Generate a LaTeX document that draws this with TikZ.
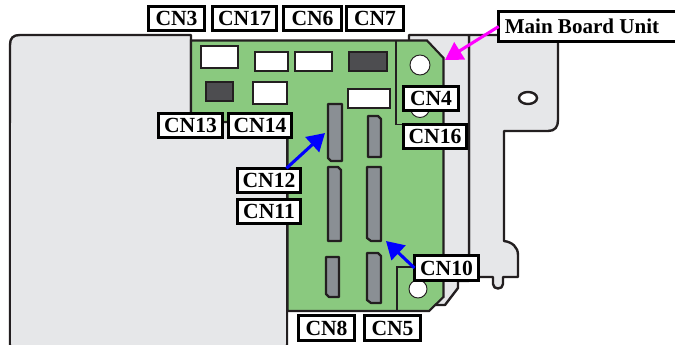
\documentclass[tikz,border=0pt]{standalone}
\usepackage{fontspec}
\setmainfont{Liberation Serif}
\usetikzlibrary{arrows.meta}
\definecolor{panel}{HTML}{E6E7E9}
\definecolor{board}{HTML}{8AC97F}
\definecolor{ink}{HTML}{231F20}
\definecolor{slotgray}{HTML}{8A8F94}
\definecolor{darkpart}{HTML}{4D4D50}
\definecolor{pinkline}{HTML}{FF00FF}
\tikzset{
  metal/.style={fill=panel,draw=ink,line width=1.8pt,line join=round},
  pcb/.style={fill=board,draw=ink,line width=1.6pt,line join=miter},
  thinline/.style={draw=ink,line width=.9pt},
  whitepart/.style={fill=white,draw=ink,line width=1.7pt},
  blackpart/.style={fill=darkpart,draw=ink,line width=1.7pt},
  slot/.style={fill=slotgray,draw=ink,line width=1.7pt,line join=round},
  hole/.style={fill=white,draw=ink,line width=.7pt},
  tag/.style={draw=black,fill=white,line width=2.3pt,inner sep=0pt,outer sep=0pt,
    minimum height=18.3pt,align=center,
    font=\fontsize{16.2}{17}\selectfont\bfseries},
  pointer/.style={line width=2.3pt,-{Triangle[length=13pt,width=15pt]}},
}
\begin{document}
\begin{tikzpicture}[x=.75pt,y=-.75pt]
\useasboundingbox (0,0) rectangle (675,345);
% rear bracket, outer
\draw[metal] (469,35) -- (558,35) -- (558,120) .. controls (558,127) and (555,131) .. (548,131)
  -- (504,131) -- (504,241) .. controls (512,242) and (518,247) .. (518,255)
  -- (518,277) -- (503,277) -- (503,284) .. controls (503,290) and (493,290) .. (493,284)
  -- (493,277) -- (469,277) -- cycle;
% rear bracket, inner
\draw[metal] (409,35) -- (469,35) -- (469,281) -- (458,281) -- (458,288) -- (445,305) -- (433,305) -- (409,305) -- cycle;
% left panel
\draw[metal] (10,345) -- (10,45) .. controls (10,38) and (13,35) .. (20,35) -- (191,35)
  -- (191,122) -- (287,122) -- (287,345);
\fill[panel] (11,344) rectangle (286,123);
% board
\draw[pcb] (191,40.5) -- (427,40.5) -- (443.5,58) -- (443.5,297) -- (429,311) -- (287.5,311) -- (287.5,122) -- (191,122) -- cycle;
\draw[thinline] (396,41) -- (396,124.5) -- (403,124.5);
\draw[thinline] (397,311) -- (397,267) -- (413,267);
% holes
\draw[hole] (420,65) circle[radius=10];
\draw[hole] (420,108) circle[radius=9.5];
\draw[hole] (418,289) circle[radius=9];
\draw[draw=ink,fill=white,line width=1.8pt] (528,98) ellipse[x radius=9,y radius=6];
% parts
\draw[whitepart] (201,46) rectangle (238,68);
\draw[whitepart] (255,52) rectangle (288,71);
\draw[whitepart] (295,52) rectangle (332,71);
\draw[blackpart] (349,52) rectangle (387,71);
\draw[blackpart] (206,82) rectangle (233,101);
\draw[whitepart] (253,82) rectangle (287,104);
\draw[whitepart] (348,89) rectangle (390,108);
% slots
\draw[slot] (328,104) -- (342,104) -- (342,161) -- (331,161) -- (328,158) -- cycle;
\draw[slot] (368,116) -- (378,116) -- (381,119) -- (381,157) -- (368,157) -- cycle;
\draw[slot] (328,167) -- (338,167) -- (341,170) -- (341,241) -- (328,241) -- cycle;
\draw[slot] (367,167) -- (381,167) -- (381,241) -- (371,241) -- (367,238) -- cycle;
\draw[slot] (326,257) -- (339,257) -- (339,297) -- (329,297) -- (326,294) -- cycle;
\draw[slot] (367,253) -- (378,253) -- (381,256) -- (381,303) -- (371,303) -- (367,300) -- cycle;
% labels
\node[tag,minimum width=42.5pt] (cn3) at (176.5,18.5) {CN3};
\node[tag,minimum width=48.5pt] (cn17) at (244.5,18.5) {CN17};
\node[tag,minimum width=43.5pt] (cn6) at (312.5,18.5) {CN6};
\node[tag,minimum width=42.5pt] (cn7) at (375,18.5) {CN7};
\node[tag,minimum width=48pt] (cn13) at (190.5,125.5) {CN13};
\node[tag,minimum width=47.5pt] (cn14) at (260,125.5) {CN14};
\node[tag,minimum width=41.5pt] (cn4) at (431,98.5) {CN4};
\node[tag,minimum width=47.5pt] (cn16) at (435,136.5) {CN16};
\node[tag,minimum width=47.5pt] (cn12) at (269,180.5) {CN12};
\node[tag,minimum width=47.5pt] (cn11) at (269,211.5) {CN11};
\node[tag,minimum width=48pt] (cn10) at (446.5,268) {CN10};
\node[tag,minimum width=42pt] (cn8) at (326.5,328) {CN8};
\node[tag,minimum width=42pt] (cn5) at (392.5,328) {CN5};
\node[tag,minimum width=134pt,minimum height=22.5pt,font=\fontsize{15.8}{17}\selectfont\bfseries] (mainboard) at (588,26.5) {\hspace{-9pt}Main Board Unit};
% arrows
\coordinate (tipa) at (325,133);
\coordinate (tipb) at (386,241);
\coordinate (tipc) at (445,60);
\draw[pointer,blue] (cn12.35) -- (tipa);
\draw[pointer,blue] (cn10.west) -- (tipb);
\draw[pointer,pinkline] (mainboard.west) -- (tipc);
\end{tikzpicture}
\end{document}
